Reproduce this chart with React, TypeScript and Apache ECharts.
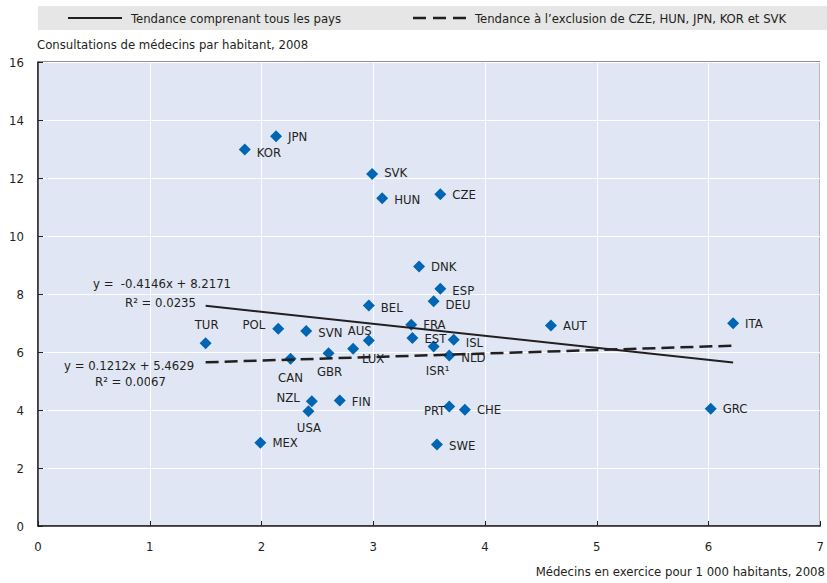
import React, { useEffect, useRef } from "react";
import * as echarts from "echarts";

const countries = ["JPN","KOR","SVK","HUN","CZE","DNK","ESP","DEU","BEL","FRA","EST","ISL","ISR¹","NLD","AUS","LUX","GBR","CAN","SVN","POL","TUR","AUT","ITA","GRC","NZL","USA","FIN","MEX","PRT","CHE","SWE"];
const doctors = [2.13,1.85,2.99,3.08,3.60,3.41,3.60,3.54,2.96,3.34,3.35,3.72,3.54,3.68,2.96,2.82,2.60,2.26,2.40,2.15,1.50,4.59,6.22,6.02,2.45,2.42,2.70,1.99,3.68,3.82,3.57];
const consultations = [13.44,12.98,12.14,11.30,11.44,8.95,8.18,7.75,7.60,6.94,6.48,6.42,6.19,5.88,6.40,6.11,5.96,5.77,6.72,6.80,6.30,6.91,6.99,4.04,4.30,3.96,4.33,2.87,4.12,4.01,2.81];

const xTicks = [0,1,2,3,4,5,6,7];
const yTicks = [0,2,4,6,8,10,12,14,16];

const trendAllX = [1.5, 6.22];
const trendAllY = [7.595, 5.638];
const trendExclX = [1.5, 6.22];
const trendExclY = [5.645, 6.217];

const legendAll = "Tendance comprenant tous les pays";
const legendExcl = "Tendance à l’exclusion de CZE, HUN, JPN, KOR et SVK";
const eqAll = ["y =  -0.4146x + 8.2171", "R² = 0.0235"];
const eqExcl = ["y = 0.1212x + 5.4629", "R² = 0.0067"];
const yTitle = "Consultations de médecins par habitant, 2008";
const xTitle = "Médecins en exercice pour 1 000 habitants, 2008";

// label placement (style only)
const placement: Record<string, { pos: string; dx?: number; dy?: number; d?: number }> = {
  JPN: { pos: "right" }, KOR: { pos: "right", dy: 3 }, SVK: { pos: "right", dy: -1 },
  HUN: { pos: "right", dy: 1 }, CZE: { pos: "right" }, DNK: { pos: "right" },
  ESP: { pos: "right", dy: 2 }, DEU: { pos: "right", dy: 3.5 }, BEL: { pos: "right", dy: 2 },
  FRA: { pos: "right" }, EST: { pos: "right", dy: 0.5 }, ISL: { pos: "right", dy: 2.5 },
  "ISR¹": { pos: "inside", dx: 4, dy: 24.5 }, NLD: { pos: "right", dy: 2.5 },
  AUS: { pos: "inside", dx: -9, dy: -9.5 }, LUX: { pos: "inside", dx: 20, dy: 9.5 },
  GBR: { pos: "inside", dx: 1, dy: 18.5 }, CAN: { pos: "inside", dx: 0, dy: 19 },
  SVN: { pos: "right", dy: 1 }, POL: { pos: "left", dy: -4, d: 7 },
  TUR: { pos: "inside", dx: 1, dy: -18.5 }, AUT: { pos: "right" }, ITA: { pos: "right", dy: 0.5 },
  GRC: { pos: "right" }, NZL: { pos: "left", dy: -4, d: 6 }, USA: { pos: "inside", dx: 0.5, dy: 16 },
  FIN: { pos: "right", dy: 1.5 }, MEX: { pos: "right" }, PRT: { pos: "left", dy: 4, d: -2 },
  CHE: { pos: "right" }, SWE: { pos: "right", dy: 1 },
};

const FONT = "'Liberation Sans Narrow', 'Arial Narrow', 'DejaVu Sans Condensed', sans-serif";
const TXT = "#231f20";

export default function App() {
  const ref = useRef<HTMLDivElement>(null);
  useEffect(() => {
    document.body.style.margin = "0";
    const chart = echarts.init(ref.current!, null, { renderer: "svg" });
    const data = countries.map((c, i) => {
      const p = placement[c] || { pos: "right" };
      return {
        name: c,
        value: [doctors[i], consultations[i]],
        label: {
          position: p.pos,
          distance: p.d ?? 6,
          offset: [p.dx ?? 0, p.dy ?? 0],
        },
      };
    });
    chart.setOption({
      animation: false,
      textStyle: { fontFamily: FONT },
      grid: {
        left: 38, top: 62, width: 788, height: 464,
        show: true, backgroundColor: "#e0e6f3", borderColor: "#231f20", borderWidth: 1,
      },
      xAxis: {
        type: "value", min: xTicks[0], max: xTicks[xTicks.length - 1], interval: 1,
        axisLine: { show: true, lineStyle: { color: "#231f20", width: 1.5 } },
        axisTick: { show: true, inside: true, length: 5, lineStyle: { color: "#231f20" } },
        splitLine: { show: true, lineStyle: { color: "#ffffff", width: 1 } },
        axisLabel: { color: TXT, fontSize: 13, fontFamily: FONT, margin: 14 },
      },
      yAxis: {
        type: "value", min: yTicks[0], max: yTicks[yTicks.length - 1], interval: 2,
        axisLine: { show: true, lineStyle: { color: "#231f20", width: 1.5 } },
        axisTick: { show: true, inside: true, length: 5, lineStyle: { color: "#231f20" } },
        splitLine: { show: true, lineStyle: { color: "#ffffff", width: 1 } },
        axisLabel: { color: TXT, fontSize: 13, fontFamily: FONT, margin: 14 },
      },
      series: [
        {
          type: "scatter", symbol: "diamond", symbolSize: 12, z: 2,
          itemStyle: { color: "#0066b3", opacity: 1 },
          label: { show: true, formatter: "{b}", color: TXT, fontSize: 13, fontFamily: FONT },
          data,
        },
        {
          type: "line", z: 5, symbol: "none", silent: true,
          lineStyle: { color: "#231f20", width: 2 },
          data: trendAllX.map((x, i) => [x, trendAllY[i]]),
        },
        {
          type: "line", z: 5, symbol: "none", silent: true,
          lineStyle: { color: "#231f20", width: 2.5, type: [13, 6] },
          data: trendExclX.map((x, i) => [x, trendExclY[i]]),
        },
      ],
      graphic: [
        { type: "rect", shape: { x: 38, y: 6, width: 789, height: 24 }, style: { fill: "#e6e6e6" } },
        { type: "line", shape: { x1: 68, y1: 18, x2: 122, y2: 18 }, style: { stroke: "#231f20", lineWidth: 2 } },
        { type: "text", x: 131, y: 18, style: { text: legendAll, fill: TXT, font: `13px ${FONT}`, textVerticalAlign: "middle" } },
        { type: "line", shape: { x1: 413, y1: 18, x2: 468, y2: 18 }, style: { stroke: "#231f20", lineWidth: 2.5, lineDash: [13, 7] } },
        { type: "text", x: 475, y: 18, style: { text: legendExcl, fill: TXT, font: `13px ${FONT}`, textVerticalAlign: "middle" } },
        { type: "text", x: 37, y: 44, style: { text: yTitle, fill: TXT, font: `13px ${FONT}`, textVerticalAlign: "middle" } },
        { type: "text", x: 825, y: 571, style: { text: xTitle, fill: TXT, font: `13px ${FONT}`, textAlign: "right", textVerticalAlign: "middle" } },
        { type: "text", x: 93, y: 283, style: { text: eqAll[0], fill: TXT, font: `13px ${FONT}`, textVerticalAlign: "middle" } },
        { type: "text", x: 125, y: 302, style: { text: eqAll[1], fill: TXT, font: `13px ${FONT}`, textVerticalAlign: "middle" } },
        { type: "text", x: 64, y: 365, style: { text: eqExcl[0], fill: TXT, font: `13px ${FONT}`, textVerticalAlign: "middle" } },
        { type: "text", x: 95, y: 381, style: { text: eqExcl[1], fill: TXT, font: `13px ${FONT}`, textVerticalAlign: "middle" } },
      ],
    });
    return () => chart.dispose();
  }, []);
  return <div ref={ref} style={{ width: 827, height: 583 }} />;
}
